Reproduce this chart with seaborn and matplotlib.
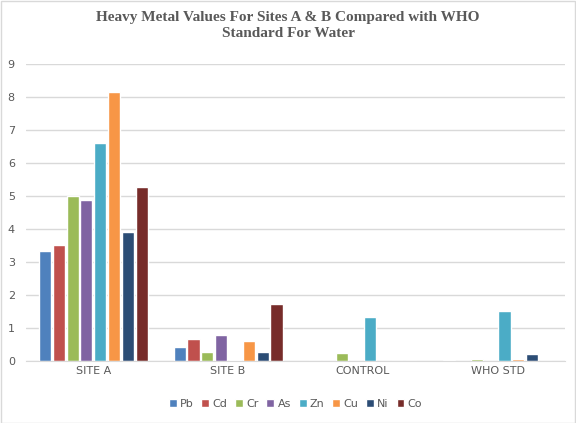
import pandas as pd
import matplotlib.pyplot as plt
import seaborn as sns

# datos
sites = ["SITE A", "SITE B", "CONTROL", "WHO STD"]
metals = ["Pb", "Cd", "Cr", "As", "Zn", "Cu", "Ni", "Co"]
pb = [3.33, 0.43, 0.0, 0.03]
cd = [3.52, 0.67, 0.0, 0.0]
cr = [5.0, 0.27, 0.24, 0.05]
as_ = [4.88, 0.79, 0.0, 0.0]
zn = [6.6, 0.03, 1.34, 1.5]
cu = [8.15, 0.61, 0.0, 0.05]
ni = [3.9, 0.27, 0.0, 0.2]
co = [5.27, 1.71, 0.0, 0.0]
colores = ["#4F81BD", "#C0504D", "#9BBB59", "#8064A2",
           "#4BACC6", "#F79646", "#2C4D75", "#772C2A"]

valores = [pb, cd, cr, as_, zn, cu, ni, co]
filas = []
for m, vals in zip(metals, valores):
    for s, v in zip(sites, vals):
        filas.append({"site": s, "metal": m, "valor": v})
df = pd.DataFrame(filas)

sns.set_style("white")
fig = plt.figure(figsize=(5.76, 4.23), dpi=100)
ax = fig.add_axes([0.045, 0.147, 0.936, 0.702])

sns.barplot(data=df, x="site", y="valor", hue="metal", order=sites,
            hue_order=metals, palette=colores, width=0.82, gap=0.12,
            saturation=1, ax=ax)

ax.set_ylim(0, 9)
ax.set_yticks(range(10))
ax.set_xlim(-0.5, 3.5)
ax.set_xlabel("")
ax.set_ylabel("")
ax.grid(axis="y", color="#D9D9D9", linewidth=1)
ax.set_axisbelow(True)
for lado in ["left", "right", "top"]:
    ax.spines[lado].set_visible(False)
ax.spines["bottom"].set_color("#D9D9D9")
ax.tick_params(axis="both", length=0, colors="#595959", labelsize=8)
ax.tick_params(axis="y", pad=8)

ax.legend(loc="upper center", bbox_to_anchor=(0.5, -0.095), ncol=8,
          frameon=False, fontsize=8, handlelength=0.7, handleheight=0.7,
          columnspacing=0.7, handletextpad=0.3, labelcolor="#595959")

fig.suptitle("Heavy Metal Values For Sites A & B Compared with WHO\nStandard For Water",
             y=0.975, fontsize=11, fontweight="bold", color="#595959",
             family="Liberation Serif", linespacing=1.3)

# borde del grafico
fig.patches.append(plt.Rectangle((0.001, 0.001), 0.997, 0.997,
                                 transform=fig.transFigure, fill=False,
                                 edgecolor="#D9D9D9", linewidth=1))

plt.savefig("out.png", dpi=100)
